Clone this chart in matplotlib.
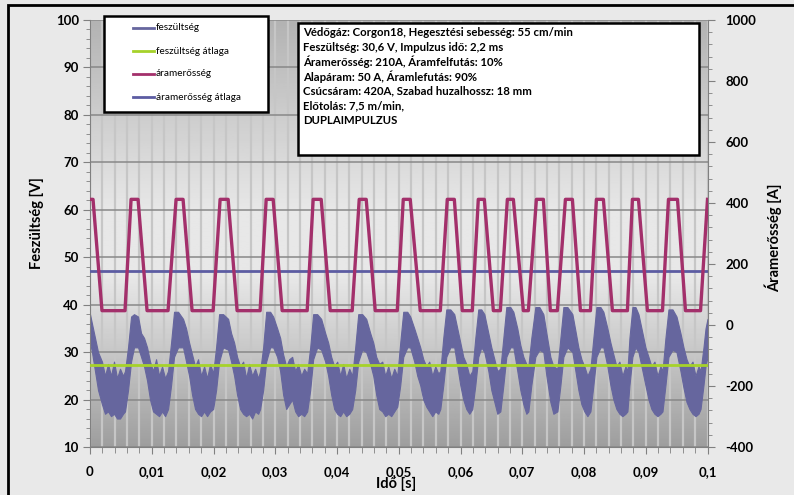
import numpy as np
import matplotlib.pyplot as plt
from matplotlib.patches import Rectangle
from matplotlib.lines import Line2D

plt.rcParams['font.family'] = ['Lato', 'DejaVu Sans']

# current trace (trapezoid corners), time in ms, current in A
i_time_ms = [0, 0.49, 1.94, 5.67, 6.65, 7.78, 9.24, 12.64, 13.94, 15.07,
             16.53, 19.94, 21.07, 22.37, 23.82, 27.55, 28.53, 29.66, 31.12, 35.17,
             36.14, 37.44, 38.90, 42.46, 43.60, 44.73, 46.19, 49.76, 50.73, 51.86,
             53.48, 56.73, 57.86, 59.00, 60.29, 61.91, 62.88, 63.86, 65.32, 66.45,
             67.59, 68.56, 70.18, 70.99, 72.29, 73.42, 74.55, 75.69, 76.99, 78.12,
             79.42, 81.04, 82.01, 83.14, 84.60, 87.03, 87.84, 88.82, 90.27, 92.71,
             93.68, 95.14, 96.43, 98.87, 100.0]
i_amp = [412, 412, 47, 47, 412, 412, 47, 47, 412, 412,
         47, 47, 412, 412, 47, 47, 412, 412, 47, 47,
         412, 412, 47, 47, 412, 412, 47, 47, 412, 412,
         47, 47, 412, 412, 47, 47, 412, 412, 47, 47,
         412, 412, 47, 47, 412, 412, 47, 47, 412, 412,
         47, 47, 412, 412, 47, 47, 412, 412, 47, 47,
         412, 412, 47, 47, 412]

# voltage: upper / lower edge of the noisy signal band, ms and V (one row per pulse)
u_time_ms = [0, 0.32, 0.81, 1.30, 1.94, 2.43, 2.92, 3.40, 3.89, 4.38, 4.86, 5.35, 5.67,
             6.16, 6.65, 7.13, 7.78, 8.27, 8.75, 9.24, 9.72, 10.21, 10.70, 11.18, 11.67, 12.16, 12.64,
             13.13, 13.61, 14.26, 15.07, 15.56, 16.05, 16.53, 17.02, 17.50, 17.99, 18.48, 18.96, 19.45, 19.94,
             20.42, 20.91, 21.56, 22.37, 22.85, 23.34, 23.82, 24.31, 24.80, 25.28, 25.77, 26.26, 26.74, 27.23, 27.55,
             28.04, 28.53, 29.17, 29.66, 30.31, 30.79, 31.28, 31.77, 32.25, 32.74, 33.23, 33.71, 34.20, 34.68, 35.17,
             35.66, 36.14, 36.79, 37.44, 38.09, 38.57, 39.06, 39.55, 40.03, 40.52, 41.00, 41.49, 41.98, 42.46,
             42.95, 43.44, 44.08, 44.73, 45.38, 45.87, 46.35, 46.84, 47.33, 47.81, 48.30, 48.78, 49.27, 49.76,
             50.24, 50.73, 51.38, 51.86, 52.51, 53.00, 53.48, 53.97, 54.46, 54.94, 55.43, 55.92, 56.40, 56.73,
             57.21, 57.70, 58.35, 58.99, 59.48, 59.97, 60.45, 60.94, 61.43, 61.91,
             62.40, 62.88, 63.37, 63.86, 64.51, 64.99, 65.48, 65.96, 66.45,
             66.94, 67.42, 68.07, 68.56, 69.20, 69.69, 70.18, 70.66, 70.99,
             71.47, 72.12, 72.77, 73.42, 73.91, 74.55, 75.04, 75.69,
             76.18, 76.66, 77.31, 78.12, 78.61, 79.09, 79.58, 80.06, 80.55, 81.04,
             81.52, 82.01, 82.66, 83.14, 83.79, 84.28, 84.76, 85.25, 85.74, 86.22, 86.71, 87.03,
             87.36, 87.84, 88.33, 88.82, 89.47, 89.95, 90.44, 90.92, 91.41, 91.90, 92.38, 92.71,
             93.19, 93.68, 94.33, 94.98, 95.62, 96.11, 96.60, 97.08, 97.57, 98.06, 98.54, 98.87,
             99.35, 99.68, 100.0]
u_high = [38, 36, 33, 30, 28, 25, 27.5, 25, 28, 24.5, 26.5, 25, 26,
          31, 37.5, 38, 37.5, 34, 33, 31, 28, 26, 28.5, 25, 27, 24.5, 26,
          32, 38.5, 38.5, 37, 35, 32, 29.5, 27, 28.5, 25, 27, 24.5, 27.5, 25.5,
          31, 38, 38, 37, 34, 32, 29, 27, 28, 24.5, 27.5, 25, 26.5, 24.5, 26,
          31, 38.5, 38.5, 37.5, 35, 33, 29.5, 27, 28.5, 29, 26, 27.5, 25, 26.5, 25.5,
          31, 38, 38, 37, 34, 32, 29, 27, 28, 25, 27.5, 24.5, 26.5, 25,
          31, 38, 38, 37, 34, 32, 29, 27.5, 28, 25, 27, 24.5, 26.5, 25,
          32, 38.5, 38.5, 37.5, 35, 33, 31, 28.5, 27, 28, 25, 27, 25.5, 26,
          33, 39, 39, 38, 35, 32, 29, 27.5, 25, 26,
          33, 39, 39, 38, 34, 31, 28.5, 26, 26.5,
          33, 39.5, 39.5, 38.5, 35, 31.5, 29, 27.5, 27,
          33, 39.5, 39.5, 38, 34, 29, 27, 26.5,
          33, 39.5, 39.5, 38, 34.5, 31, 28.5, 27, 25, 26.5,
          33, 39.5, 39.5, 38.5, 35, 32, 29.5, 27, 28, 25, 27, 26,
          33, 39.5, 39.5, 38, 34, 31, 29, 27, 28, 25, 27, 26,
          33, 39, 39, 37.5, 34, 31, 28.5, 27, 28, 25, 27, 26,
          31, 35, 37]
u_low = [32, 30, 26, 22, 19, 17, 17.5, 16.5, 17, 16, 16, 17, 17.5,
         22, 28, 31, 31, 29, 27, 24, 20, 17.5, 17, 16.5, 17.5, 16.5, 18,
         23, 29, 31, 31, 28, 25, 21, 18, 17, 16.5, 17.5, 16.5, 17.5, 18,
         22, 28, 31, 30.5, 28, 25, 21, 18, 17, 16.5, 17, 16, 17.5, 17, 18,
         22, 28, 31, 31, 29, 26, 21, 18, 19, 20, 17.5, 16.5, 17, 16.5, 17.5,
         22, 28.5, 31, 30.5, 28, 25, 21, 18, 17, 16.5, 17.5, 16.5, 17, 18,
         22, 28, 30.5, 30, 27.5, 25, 21, 18, 17.5, 16.5, 17, 16.5, 17.5, 18.5,
         23, 29, 31, 31, 28, 25, 23, 20, 18.5, 17.5, 16.5, 17.5, 17, 18,
         23, 29, 31, 31, 27, 23, 20, 18, 17, 18,
         23, 29, 31, 30, 26, 22, 19.5, 17, 17.5,
         23, 29, 31, 31, 26, 22, 19, 17, 17.5,
         23, 29, 30.5, 30, 25, 19.5, 17, 17.5,
         23, 29, 31, 30, 26, 22, 19, 17.5, 16.5, 17.5,
         23, 29, 31, 31, 27, 23, 20, 18, 17, 16.5, 17, 17.5,
         23, 29, 31, 30, 26, 23, 20, 18, 17, 16.5, 17, 17.5,
         23, 29, 30.5, 30, 26, 22.5, 19.5, 18, 17, 16.5, 17, 18,
         23, 27, 29]

u_mean = 27.2   # V
i_mean = 178    # A

series_names = ['feszültség', 'feszültség átlaga', 'áramerősség', 'áramerősség átlaga']
series_colors = ['#66669e', '#a6d22a', '#a3306b', '#5c5ca2']

info_lines = ['Védőgáz: Corgon18, Hegesztési sebesség: 55 cm/min',
              'Feszültség: 30,6 V, Impulzus idő: 2,2 ms',
              'Áramerősség: 210A, Áramfelfutás: 10%',
              'Alapáram: 50 A, Áramlefutás: 90%',
              'Csúcsáram: 420A, Szabad huzalhossz: 18 mm',
              'Előtolás: 7,5 m/min,',
              'DUPLAIMPULZUS']

x_ticks = [0, 0.01, 0.02, 0.03, 0.04, 0.05, 0.06, 0.07, 0.08, 0.09, 0.1]
x_tick_labels = ['0', '0,01', '0,02', '0,03', '0,04', '0,05', '0,06', '0,07', '0,08', '0,09', '0,1']
u_ticks = [10, 20, 30, 40, 50, 60, 70, 80, 90, 100]
i_ticks = [-400, -200, 0, 200, 400, 600, 800, 1000]

t_i = np.array(i_time_ms) / 1000
t_u = np.array(u_time_ms) / 1000

W, H = 794, 495
fig = plt.figure(figsize=(W / 100, H / 100), dpi=100, facecolor='#e9e9e9')


def fx(px):
    return px / W


def fy(py):
    return 1 - py / H


ax = fig.add_axes([fx(90), fy(447), fx(707.5) - fx(90), fy(20) - fy(447)])
ax.set_xlim(0, 0.1)
ax.set_ylim(10, 100)

# plot area shading: dark at top and bottom, light in the middle
shade = np.interp(np.linspace(0, 1, 256), [0, 0.45, 0.6, 1], [0.70, 0.91, 0.91, 0.62])
ax.imshow(shade[:, None], cmap='gray', vmin=0, vmax=1, aspect='auto',
          extent=[0, 0.1, 10, 100], origin='upper', zorder=0.1)

ax.set_xticks(x_ticks, x_tick_labels, fontweight='bold', fontsize=9.5)
ax.set_xticks(np.arange(0, 0.1001, 0.002), minor=True)
ax.set_yticks(u_ticks, [str(v) for v in u_ticks], fontweight='bold', fontsize=9.5)
ax.set_yticks(np.arange(10, 100.1, 2), minor=True)
ax.grid(which='both', axis='x', color='#c6c6c6', lw=1.6)
ax.grid(which='major', axis='y', color='#888888', lw=1.1)
ax.set_axisbelow(True)

ax.fill_between(t_u, u_low, u_high, color=series_colors[0], lw=0.8, zorder=2)
ax.axhline(u_mean, color=series_colors[1], lw=2, zorder=3)

ax2 = ax.twinx()
ax2.set_ylim(-400, 1000)
ax2.set_yticks(i_ticks, [str(v) for v in i_ticks], fontweight='bold', fontsize=9.5)
ax2.set_yticks(np.arange(-400, 1001, 40), minor=True)
ax2.axhline(i_mean, color=series_colors[3], lw=2, zorder=2)
ax2.plot(t_i, i_amp, color=series_colors[2], lw=2.4, zorder=3)

for a in (ax, ax2):
    for s in a.spines.values():
        s.set_color('#808080')
    a.spines['top'].set_visible(False)
ax.spines['right'].set_visible(False)
ax2.spines['left'].set_visible(False)
ax2.spines['bottom'].set_visible(False)

ax.tick_params(axis='y', which='major', length=5, color='#808080', pad=3)
ax.tick_params(axis='y', which='minor', length=3, color='#808080')
ax.tick_params(axis='x', which='major', length=5, color='#808080', pad=9)
ax.tick_params(axis='x', which='minor', length=4, color='#808080')
ax2.tick_params(axis='y', which='major', length=5, color='#808080', pad=8)
ax2.tick_params(axis='y', which='minor', length=3, color='#808080')

ax.set_ylabel('Feszültség [V]', fontsize=10.5, fontweight='bold')
ax.yaxis.set_label_coords(-0.074, 0.525)
ax2.set_ylabel('Áramerősség [A]', fontsize=10.5, fontweight='bold')
ax2.yaxis.set_label_coords(1.093, 0.49)
ax.set_xlabel('Idő [s]', fontsize=10.5, fontweight='bold')
ax.xaxis.set_label_coords(0.4955, -0.071)

# legend box
fig.add_artist(Rectangle((fx(104), fy(112)), fx(268) - fx(104), fy(16) - fy(112),
                         transform=fig.transFigure, fc='white', ec='black', lw=1.8, zorder=10))
for k, (name, col) in enumerate(zip(series_names, series_colors)):
    yy = fy(28 + 23 * k)
    fig.add_artist(Line2D([fx(133), fx(154)], [yy, yy], color=col, lw=2,
                          transform=fig.transFigure, zorder=11))
    fig.text(fx(156), yy, name, fontsize=7.2, va='center', ha='left', zorder=11)

# welding parameters box
fig.add_artist(Rectangle((fx(298), fy(155)), fx(699) - fx(298), fy(23) - fy(155),
                         transform=fig.transFigure, fc='white', ec='black', lw=1.8, zorder=10))
for k, line in enumerate(info_lines):
    fig.text(fx(303), fy(33 + 14.5 * k), line, fontsize=8.2, fontweight='bold',
             va='center', ha='left', zorder=11)

# outer frame
fig.add_artist(Rectangle((fx(8), -0.1), 1.2, fy(5) + 0.1, transform=fig.transFigure,
                         fill=False, ec='black', lw=2))

fig.savefig('out.png', dpi=100, facecolor=fig.get_facecolor())
